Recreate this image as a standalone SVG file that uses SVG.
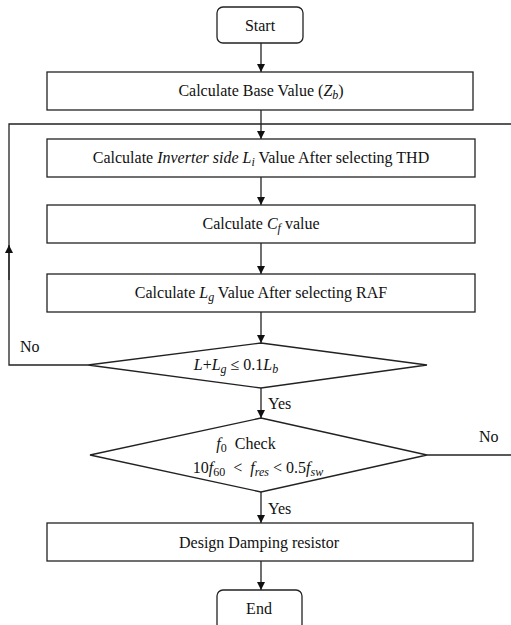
<svg xmlns="http://www.w3.org/2000/svg" width="511" height="625" viewBox="0 0 511 625">
<style>
.box{fill:#fff;stroke:#222;stroke-width:1.3}
.ln{fill:none;stroke:#222;stroke-width:1.3}
text{font-family:"Liberation Serif","Times New Roman",serif;font-size:16px;fill:#111}
.c{text-anchor:middle}
.m{font-style:italic}
.s{font-size:12px;font-style:italic}
.n{font-size:12px}
</style>
<defs>
<marker id="ah" viewBox="0 0 10 10" refX="10" refY="5" markerWidth="8" markerHeight="8" markerUnits="userSpaceOnUse" orient="auto">
<path d="M0,0 L10,5 L0,10 z" fill="#111"/>
</marker>
</defs>
<rect width="511" height="625" fill="#fff"/>
<g id="connectors">
<line class="ln" x1="261" y1="43" x2="261" y2="72" marker-end="url(#ah)"/>
<line class="ln" x1="261" y1="110" x2="261" y2="139" marker-end="url(#ah)"/>
<line class="ln" x1="261" y1="177" x2="261" y2="205" marker-end="url(#ah)"/>
<line class="ln" x1="261" y1="243" x2="261" y2="274" marker-end="url(#ah)"/>
<line class="ln" x1="261" y1="312" x2="261" y2="343" marker-end="url(#ah)"/>
<line class="ln" x1="261" y1="388" x2="261" y2="418" marker-end="url(#ah)"/>
<line class="ln" x1="261" y1="492" x2="261" y2="523" marker-end="url(#ah)"/>
<line class="ln" x1="261" y1="561" x2="261" y2="590" marker-end="url(#ah)"/>
<polyline class="ln" points="88,365 9,365 9,124 511,124"/>
<line class="ln" x1="9" y1="280" x2="9" y2="245" marker-end="url(#ah)"/>
<line class="ln" x1="427" y1="455" x2="511" y2="455"/>
<text x="20" y="352">No</text>
<text x="479" y="442">No</text>
<text x="268" y="409">Yes</text>
<text x="268" y="514">Yes</text>
</g>
<g id="start">
<rect class="box" x="217" y="7" width="86" height="36" rx="6"/>
<text class="c" x="260" y="31">Start</text>
</g>
<g id="base">
<rect class="box" x="47" y="72" width="426" height="38"/>
<text class="c" x="261" y="96">Calculate Base Value (<tspan class="m">Z</tspan><tspan class="s" dy="3">b</tspan><tspan dy="-3">)</tspan></text>
</g>
<g id="inverter">
<rect class="box" x="47" y="139" width="428" height="38"/>
<text class="c" x="261" y="163">Calculate <tspan class="m">Inverter side L</tspan><tspan class="s" dy="3">i</tspan><tspan dy="-3"> Value After selecting THD</tspan></text>
</g>
<g id="cf">
<rect class="box" x="47" y="205" width="428" height="38"/>
<text class="c" x="261" y="229">Calculate <tspan class="m">C</tspan><tspan class="s" dy="3">f</tspan><tspan dy="-3"> value</tspan></text>
</g>
<g id="lg">
<rect class="box" x="47" y="274" width="428" height="38"/>
<text class="c" x="261" y="298">Calculate <tspan class="m">L</tspan><tspan class="s" dy="3">g</tspan><tspan dy="-3"> Value After selecting RAF</tspan></text>
</g>
<g id="check1">
<polygon class="box" points="261,343 427,365 261,388 88,365"/>
<text class="c" x="236" y="370"><tspan class="m">L</tspan>+<tspan class="m">L</tspan><tspan class="s" dy="3">g</tspan><tspan dy="-3">  ≤ 0.1</tspan><tspan class="m">L</tspan><tspan class="s" dy="3">b</tspan></text>
</g>
<g id="check2">
<polygon class="box" points="261,418 427,455 261,492 90,455"/>
<text class="c" x="246" y="449" xml:space="preserve"><tspan class="m">f</tspan><tspan class="n" dy="3">0</tspan><tspan dy="-3">  Check</tspan></text>
<text class="c" x="258" y="473" xml:space="preserve">10<tspan class="m">f</tspan><tspan class="n" dy="3">60</tspan><tspan dy="-3">  &lt;  </tspan><tspan class="m">f</tspan><tspan class="s" dy="3">res</tspan><tspan dy="-3"> &lt; 0.5</tspan><tspan class="m">f</tspan><tspan class="s" dy="3">sw</tspan></text>
</g>
<g id="damping">
<rect class="box" x="47" y="523" width="426" height="38"/>
<text class="c" x="259" y="548">Design Damping resistor</text>
</g>
<g id="end">
<rect class="box" x="217" y="590" width="85" height="40" rx="6"/>
<text class="c" x="259" y="614">End</text>
</g>
</svg>
